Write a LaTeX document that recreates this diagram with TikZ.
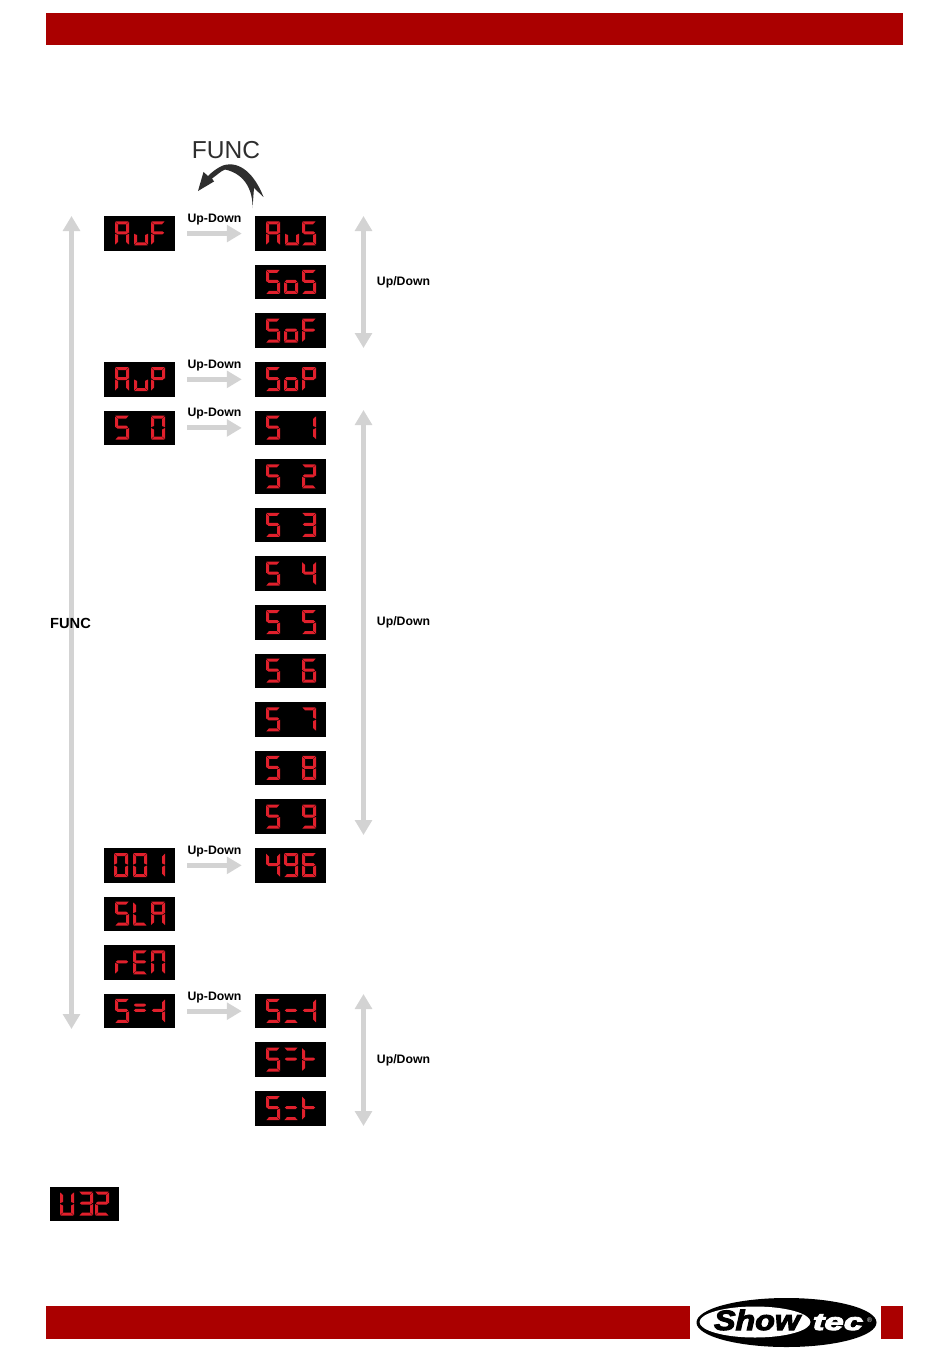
\documentclass[tikz,border=0pt]{standalone}
\usepackage{fontspec}
\setmainfont{Liberation Sans}
\newfontfamily\logofont[FakeBold=3.5]{Liberation Sans Bold Italic}
\usetikzlibrary{arrows.meta}
\definecolor{barred}{HTML}{AA0000}
\definecolor{ledred}{HTML}{E0202C}
\definecolor{arrowgrey}{HTML}{D3D3D3}
\definecolor{funcdark}{HTML}{2E2E2E}
\tikzset{
  display/.style={fill=black,inner sep=0pt,minimum width=53.6pt,minimum height=25.9pt,text=white,text opacity=0,font=\fontsize{9}{9}\selectfont},
  display small/.style={display,minimum width=51.75pt,minimum height=25.5pt},
  hstep/.style={line width=3.75pt,draw=arrowgrey,-{Triangle[length=11.25pt,width=12.5pt,fill=arrowgrey]},shorten <=8.6pt,shorten >=9.75pt},
  vstep/.style={line width=3.5pt,draw=arrowgrey,{Triangle[length=11.25pt,width=12.5pt,fill=arrowgrey]}-{Triangle[length=11.25pt,width=12.5pt,fill=arrowgrey]}},
  steplabel/.style={inner sep=0pt,font=\bfseries\fontsize{9.2}{10}\selectfont},
  bigfunc/.style={inner sep=0pt,text=funcdark,font=\fontsize{18.4}{20}\selectfont},
  sidefunc/.style={inner sep=0pt,font=\bfseries\fontsize{11}{12}\selectfont},
}
% one seven-segment digit: local cell 14 x 24 units
\expandafter\def\csname seg-a\endcsname{\fill[ledred] (0.4,0)--(13.6,0)--(11,3)--(3,3)--cycle;}
\expandafter\def\csname seg-d\endcsname{\fill[ledred] (0.4,24)--(13.6,24)--(11,21)--(3,21)--cycle;}
\expandafter\def\csname seg-f\endcsname{\fill[ledred] (0,0.6)--(3,3.4)--(3,10.2)--(0,11.6)--cycle;}
\expandafter\def\csname seg-e\endcsname{\fill[ledred] (0,12.4)--(3,13.8)--(3,20.6)--(0,23.4)--cycle;}
\expandafter\def\csname seg-b\endcsname{\fill[ledred] (14,0.6)--(11,3.4)--(11,10.2)--(14,11.6)--cycle;}
\expandafter\def\csname seg-c\endcsname{\fill[ledred] (14,12.4)--(11,13.8)--(11,20.6)--(14,23.4)--cycle;}
\expandafter\def\csname seg-g\endcsname{\fill[ledred] (2.6,10)--(11.4,10)--(13.2,11.5)--(11.4,13)--(2.6,13)--(0.8,11.5)--cycle;}
\expandafter\def\csname seg-h\endcsname{\fill[ledred] (2.6,4.6)--(11.4,4.6)--(13.2,6.1)--(11.4,7.6)--(2.6,7.6)--(0.8,6.1)--cycle;}
\def\glyphdef#1#2{\expandafter\def\csname glyph-#1\endcsname{#2}}
\glyphdef{A}{a,b,c,e,f,g}\glyphdef{u}{c,d,e}\glyphdef{F}{a,e,f,g}\glyphdef{S}{a,f,g,c,d}
\glyphdef{o}{c,d,e,g}\glyphdef{P}{a,b,e,f,g}\glyphdef{0}{a,b,c,d,e,f}\glyphdef{1}{b,c}
\glyphdef{2}{a,b,g,e,d}\glyphdef{3}{a,b,g,c,d}\glyphdef{4}{f,g,b,c}\glyphdef{5}{a,f,g,c,d}
\glyphdef{6}{a,f,g,e,c,d}\glyphdef{7}{a,b,c}\glyphdef{8}{a,b,c,d,e,f,g}\glyphdef{9}{a,b,f,g,c,d}
\glyphdef{L}{f,e,d}\glyphdef{r}{e,g}\glyphdef{E}{a,f,g,e,d}\glyphdef{M}{a,b,c,e,f}
\glyphdef{U}{b,c,d,e,f}\glyphdef{Q}{h,g}\glyphdef{R}{g,d}\glyphdef{T}{a,g}\glyphdef{J}{b,c,g}\glyphdef{K}{e,f,g}
% #1 left edge, #2 top edge, #3 list glyph/offset
\newcommand\ledchars[3]{%
  \foreach \gl/\px in {#3}{%
    \edef\seglist{\csname glyph-\gl\endcsname}%
    \begin{scope}[shift={(#1+\px,#2+5)}]
      \foreach \sgm in \seglist {\csname seg-\sgm\endcsname}
    \end{scope}}}
% #1 name, #2 left edge, #3 top edge, #4 text, #5 glyphs
\newcommand\ledbox[5]{%
  \node[display] (#1) at ({#2+35.75},{#3+17.25}) {#4};
  \ledchars{#2}{#3}{#5}}
\begin{document}
\begin{tikzpicture}[x=0.75pt,y=-0.75pt]
\useasboundingbox (0,0) rectangle (950,1359);
\fill[white] (0,0) rectangle (950,1359);
% page bars
\fill[barred] (46,13) rectangle (903,45);
\fill[barred] (46,1306) rectangle (690,1339);
\fill[barred] (881,1306) rectangle (903,1339);
% left column
\ledbox{auf}{104}{216.3}{AuF}{A/11,u/30,F/47}
\ledbox{aup}{104}{362.1}{AuP}{A/11,u/30,P/47}
\ledbox{szero}{104}{410.7}{S 0}{S/11,0/47}
\ledbox{addr}{104}{848.1}{001}{0/10,0/29,1/47}
\ledbox{sla}{104}{896.7}{SLA}{S/11,L/29,A/47}
\ledbox{rem}{104}{945.3}{rEM}{r/11,E/29,M/47}
\ledbox{sleft}{104}{993.9}{S=-|}{S/11,Q/29,J/47}
% right column
\ledbox{aus}{255}{216.3}{AuS}{A/11,u/30,S/47}
\ledbox{sos}{255}{264.9}{SoS}{S/11,o/29,S/47}
\ledbox{sof}{255}{313.5}{SoF}{S/11,o/29,F/47}
\ledbox{sop}{255}{362.1}{SoP}{S/11,o/29,P/47}
\ledbox{sone}{255}{410.7}{S 1}{S/11,1/47}
\ledbox{stwo}{255}{459.3}{S 2}{S/11,2/47}
\ledbox{sthree}{255}{507.9}{S 3}{S/11,3/47}
\ledbox{sfour}{255}{556.5}{S 4}{S/11,4/47}
\ledbox{sfive}{255}{605.1}{S 5}{S/11,5/47}
\ledbox{ssix}{255}{653.7}{S 6}{S/11,6/47}
\ledbox{sseven}{255}{702.3}{S 7}{S/11,7/47}
\ledbox{seight}{255}{750.9}{S 8}{S/11,8/47}
\ledbox{snine}{255}{799.5}{S 9}{S/11,9/47}
\ledbox{addrmax}{255}{848.1}{496}{4/11,9/29,6/47}
\ledbox{srone}{255}{993.9}{S=-|}{S/11,R/29,J/47}
\ledbox{srtwo}{255}{1042.5}{S=|-}{S/11,T/29,K/47}
\ledbox{srthree}{255}{1091.1}{S=|-}{S/11,R/29,K/47}
% bottom display
\node[display small] (vers) at (84.5,1203.7) {U32};
\ledchars{50}{1186.7}{U/10,3/29,2/45}
% horizontal arrows and labels
\draw[hstep] (auf.east) -- (aus.west);
\draw[hstep] (aup.east) -- (sop.west);
\draw[hstep] (szero.east) -- (sone.west);
\draw[hstep] (addr.east) -- (addrmax.west);
\draw[hstep] (sleft.east) -- (srone.west);
\node[steplabel] (lab1) at (214.5,219.2) {Up-Down};
\node[steplabel] (lab2) at (214.5,365.2) {Up-Down};
\node[steplabel] (lab3) at (214.5,413.7) {Up-Down};
\node[steplabel] (lab4) at (214.5,851.2) {Up-Down};
\node[steplabel] (lab5) at (214.5,997.2) {Up-Down};
% vertical arrows
\coordinate (vfa) at (71.5,216); \coordinate (vfb) at (71.5,1029);
\coordinate (va1) at (363.5,216); \coordinate (vb1) at (363.5,348);
\coordinate (va2) at (363.5,410); \coordinate (vb2) at (363.5,835);
\coordinate (va3) at (363.5,994); \coordinate (vb3) at (363.5,1126);
\draw[vstep] (vfa) -- (vfb);
\draw[vstep] (va1) -- (vb1);
\draw[vstep] (va2) -- (vb2);
\draw[vstep] (va3) -- (vb3);
\node[steplabel] (ud1) at (403.5,282) {Up/Down};
\node[steplabel] (ud2) at (403.5,622) {Up/Down};
\node[steplabel] (ud3) at (403.5,1060) {Up/Down};
\node[sidefunc] (funcside) at (70.5,623) {FUNC};
% top FUNC and curved arrow
\node[bigfunc] (functop) at (226,150) {FUNC};
\fill[funcdark] (198,191) -- (203.5,172) -- (208,176)
  .. controls (212,172) and (217,168) .. (223,165.5)
  .. controls (240,160) and (255,175) .. (263.5,197)
  -- (254,188) -- (252.5,208)
  .. controls (253,192) and (246,174) .. (225,169.5)
  .. controls (221,171) and (217,175) .. (212,178.5)
  -- (214,181.5) -- cycle;
% logo
\fill[black] (786.5,1322.5) ellipse [x radius=90,y radius=24.5];
\fill[white] (755,1322) ellipse [x radius=55.5,y radius=15.5];
\node[inner sep=0pt,anchor=base,xscale=1.15,font=\logofont\fontsize{21}{22}\selectfont] (logoshow) at (757,1330) {Show};
\node[inner sep=0pt,anchor=base,xscale=1.45,text=white,font=\logofont\fontsize{18}{20}\selectfont] (logotec) at (838,1330) {tec};
\node[inner sep=0pt,text=white,font=\fontsize{5}{6}\selectfont] (logoreg) at (869.5,1320) {®};
\end{tikzpicture}
\end{document}
